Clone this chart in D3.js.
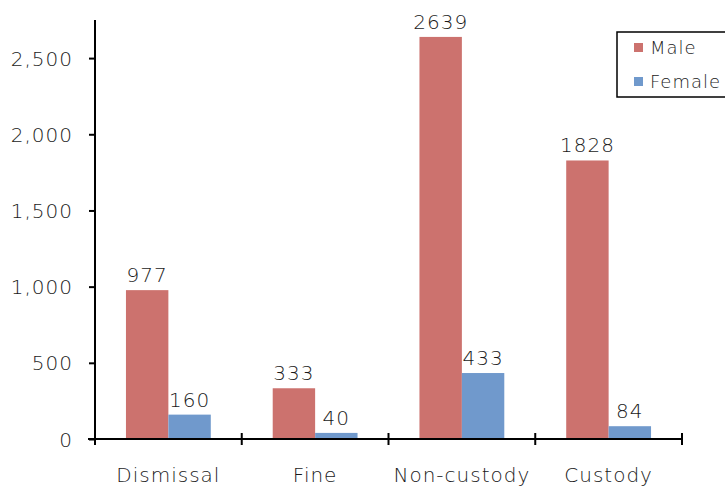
<!DOCTYPE html>
<html><head><meta charset="utf-8">
<script src="https://cdn.jsdelivr.net/npm/d3@7"></script>
<style>body{margin:0;background:#fff}svg{display:block}text{font-family:"DejaVu Sans",sans-serif;font-weight:200;fill:#1a1a1a;letter-spacing:1px}</style>
</head><body><svg width="725" height="487"></svg>
<script>
const categories = ["Dismissal", "Fine", "Non-custody", "Custody"];
const seriesNames = ["Male", "Female"];
const maleValues = [977, 333, 2639, 1828];
const femaleValues = [160, 40, 433, 84];
const yTicks = [0, 500, 1000, 1500, 2000, 2500];
const colors = ["#CC726E", "#7099CC"];

const svg = d3.select("svg");
const x0 = 95, x1 = 682, yTop = 20, yBase = 439;
const x = d3.scaleBand().domain(categories).range([x0, x1]).paddingInner(0).paddingOuter(0);
const xs = d3.scaleBand().domain(seriesNames).range([0, x.bandwidth()]).paddingInner(0).paddingOuter(0.73);
const y = d3.scaleLinear().domain([0, 2750]).range([yBase, yTop]);
const fmt = d3.format(",");

// bars
const data = categories.map((c, i) => ({c, vals: [maleValues[i], femaleValues[i]]}));
const g = svg.append("g");
data.forEach(d => {
  d.vals.forEach((v, k) => {
    const bx = x(d.c) + xs(seriesNames[k]);
    g.append("rect").attr("x", bx).attr("y", y(v)).attr("width", xs.bandwidth()).attr("height", yBase - y(v)).attr("fill", colors[k]);
    g.append("text").attr("x", bx + xs.bandwidth()/2).attr("y", y(v) - 8).attr("text-anchor", "middle").attr("font-size", 20).text(v);
  });
});

// y axis
const ya = d3.axisLeft(y).tickValues(yTicks).tickFormat(fmt).tickSize(6).tickPadding(16);
const yg = svg.append("g").attr("transform", `translate(${x0},0)`).call(ya);
yg.select(".domain").attr("d", `M0,${yTop}V${yBase + 6}`).attr("stroke", "#000").attr("stroke-width", 2);
yg.selectAll(".tick line").attr("stroke", "#000").attr("stroke-width", 2);
yg.selectAll(".tick text").attr("font-size", 20).style("font-family", "DejaVu Sans").attr("fill", "#1a1a1a").attr("dy", "0.35em");

// x axis
svg.append("line").attr("x1", x0 - 7).attr("x2", x1).attr("y1", yBase).attr("y2", yBase).attr("stroke", "#000").attr("stroke-width", 2);
const tickX = categories.map(c => x(c)).concat([x(categories[categories.length-1]) + x.bandwidth()]);
tickX.slice(1).forEach(tx => {
  svg.append("line").attr("x1", tx).attr("x2", tx).attr("y1", yBase - 6).attr("y2", yBase + 6).attr("stroke", "#000").attr("stroke-width", 2);
});
categories.forEach(c => {
  svg.append("text").attr("x", x(c) + x.bandwidth()/2).attr("y", 482).attr("text-anchor", "middle").attr("font-size", 20).text(c);
});

// legend
const lg = svg.append("g");
lg.append("rect").attr("x", 617).attr("y", 32).attr("width", 120).attr("height", 65).attr("fill", "#fff").attr("stroke", "#000").attr("stroke-width", 1.5);
seriesNames.forEach((s, k) => {
  const ly = 48 + k * 34;
  lg.append("rect").attr("x", 634).attr("y", ly - 5).attr("width", 9).attr("height", 9).attr("fill", colors[k]);
  lg.append("text").attr("x", 650).attr("y", ly).attr("dy", "0.35em").attr("font-size", 18).text(s);
});
</script></body></html>
